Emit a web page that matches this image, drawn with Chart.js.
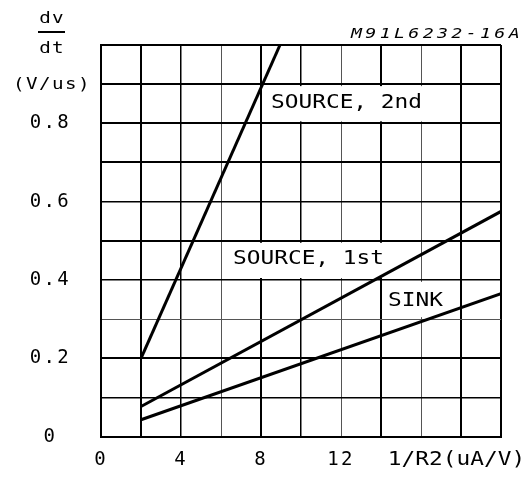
<!DOCTYPE html>
<html>
<head>
<meta charset="utf-8">
<script src="https://cdn.jsdelivr.net/npm/chart.js@4.4.0/dist/chart.umd.min.js"></script>
<style>
  html, body { margin: 0; padding: 0; background: #fff; }
</style>
</head>
<body>
<canvas id="dvdtChart" width="532" height="478"></canvas>
<script>
// dv/dt (V/us) versus 1/R2 (uA/V)
const source2ndX = [2, 8.95];
const source2ndY = [0.2, 1.0];
const source1stX = [2, 20];
const source1stY = [0.077, 0.575];
const sinkX = [2, 20];
const sinkY = [0.043, 0.365];

const curveNames = ['SOURCE, 2nd', 'SOURCE, 1st', 'SINK'];

const xTickValues = [0, 4, 8, 12];
const xTickLabels = ['0', '4', '8', '12'];
const yTickValues = [0, 0.2, 0.4, 0.6, 0.8];
const yTickLabels = ['0', '0.2', '0.4', '0.6', '0.8'];

const MONO = '"DejaVu Sans Mono", "Liberation Mono", monospace';
const SPACING = '2.3px';

// grid line weights, the scan has heavier and lighter lines
const xLineW = [2, 2, 1.5, 1, 2, 1.5, 1, 2, 1, 2, 2];
const yLineW = [2, 1.5, 2, 1, 1.5, 2, 1.5, 2, 2, 2, 2];

function toPoints(xs, ys) {
  return xs.map((x, i) => ({ x: x, y: ys[i] }));
}

function matchTick(list, labels, v) {
  const i = list.findIndex(t => Math.abs(t - v) < 1e-6);
  return i >= 0 ? labels[i] : '';
}

// plotter lettering is wider than DejaVu Mono, so stretch it a bit
function plotText(ctx, str, x, y, o) {
  ctx.save();
  ctx.font = (o.italic ? 'italic ' : '') + o.size + 'px ' + MONO;
  ctx.letterSpacing = (o.spacing || 0) + 'px';
  ctx.fillStyle = '#000';
  ctx.textBaseline = o.baseline || 'middle';
  ctx.textAlign = o.align || 'left';
  ctx.translate(x, y);
  ctx.scale(o.sx || 1, 1);
  ctx.fillText(str, 0, 0);
  ctx.restore();
}

const plotterText = {
  id: 'plotterText',
  beforeUpdate(chart) { chart.ctx.letterSpacing = SPACING; },
  beforeDraw(chart) { chart.ctx.letterSpacing = SPACING; },
  beforeDatasetsDraw(chart) {
    const { ctx, scales: { x, y } } = chart;
    // curve labels sit in white boxes that hide the grid
    const boxes = [
      { x0: 8.15, x1: 17.85, y0: 0.895, y1: 0.805, tx: 8.5, ty: 0.851 },
      { x0: 6.1, x1: 15.85, y0: 0.495, y1: 0.405, tx: 6.6, ty: 0.454 },
      { x0: 14.1, x1: 17.7, y0: 0.395, y1: 0.305, tx: 14.35, ty: 0.346 }
    ];
    boxes.forEach((b, i) => {
      const l = x.getPixelForValue(b.x0), r = x.getPixelForValue(b.x1);
      const t = y.getPixelForValue(b.y0), bt = y.getPixelForValue(b.y1);
      ctx.save();
      ctx.fillStyle = '#fff';
      ctx.fillRect(l, t, r - l, bt - t);
      ctx.restore();
      plotText(ctx, curveNames[i], x.getPixelForValue(b.tx), y.getPixelForValue(b.ty),
        { size: 19, sx: 1.2, spacing: 0 });
    });
  },
  afterDraw(chart) {
    const { ctx, scales: { x } } = chart;
    // y axis title as a fraction
    plotText(ctx, 'dv', 52, 23, { size: 16, sx: 1.2, spacing: 1, align: 'center', baseline: 'alphabetic' });
    ctx.save();
    ctx.fillStyle = '#000';
    ctx.fillRect(38, 31, 27, 2);
    ctx.restore();
    plotText(ctx, 'dt', 52, 53, { size: 16, sx: 1.2, spacing: 1, align: 'center', baseline: 'alphabetic' });
    plotText(ctx, '(V/us)', 52, 85, { size: 16, sx: 1.2, spacing: 1.2, align: 'center' });
    // x axis title next to the last tick label
    plotText(ctx, '1/R2(uA/V)', 456.5, x.bottom - 10, { size: 19, sx: 1.2, spacing: 0, align: 'center' });
    // figure code
    plotText(ctx, 'M91L6232-16A', 523, 38,
      { size: 14, spacing: 2.6, sx: 1.3, italic: true, align: 'right', baseline: 'alphabetic' });
  }
};

new Chart(document.getElementById('dvdtChart'), {
  type: 'line',
  data: {
    datasets: [
      { label: curveNames[0], data: toPoints(source2ndX, source2ndY) },
      { label: curveNames[1], data: toPoints(source1stX, source1stY) },
      { label: curveNames[2], data: toPoints(sinkX, sinkY) }
    ]
  },
  options: {
    responsive: false,
    devicePixelRatio: 1,
    animation: false,
    layout: { padding: { top: 45, right: 31, left: 0, bottom: 0 } },
    elements: {
      line: { borderColor: '#000', borderWidth: 3, tension: 0 },
      point: { radius: 0 }
    },
    scales: {
      x: {
        type: 'linear',
        min: 0,
        max: 20,
        afterFit: s => { s.height = 33; },
        border: { display: true, color: '#000', width: 2 },
        grid: {
          drawTicks: false,
          color: c => (xLineW[c.index] < 1.5 ? '#555' : '#000'),
          lineWidth: c => xLineW[c.index] || 1
        },
        ticks: {
          stepSize: 2,
          autoSkip: false,
          maxRotation: 0,
          padding: 12,
          color: '#000',
          font: { family: MONO, size: 19 },
          callback: v => matchTick(xTickValues, xTickLabels, v)
        }
      },
      y: {
        min: 0,
        max: 1,
        afterFit: s => { s.width = 101; },
        border: { display: true, color: '#000', width: 2 },
        grid: {
          drawTicks: false,
          color: c => (yLineW[c.index] < 1.5 ? '#555' : '#000'),
          lineWidth: c => yLineW[c.index] || 1
        },
        ticks: {
          stepSize: 0.1,
          autoSkip: false,
          crossAlign: 'center',
          padding: 30,
          color: '#000',
          font: { family: MONO, size: 19 },
          callback: v => matchTick(yTickValues, yTickLabels, v)
        }
      }
    },
    plugins: {
      legend: { display: false },
      tooltip: { enabled: false }
    }
  },
  plugins: [plotterText]
});
</script>
</body>
</html>
